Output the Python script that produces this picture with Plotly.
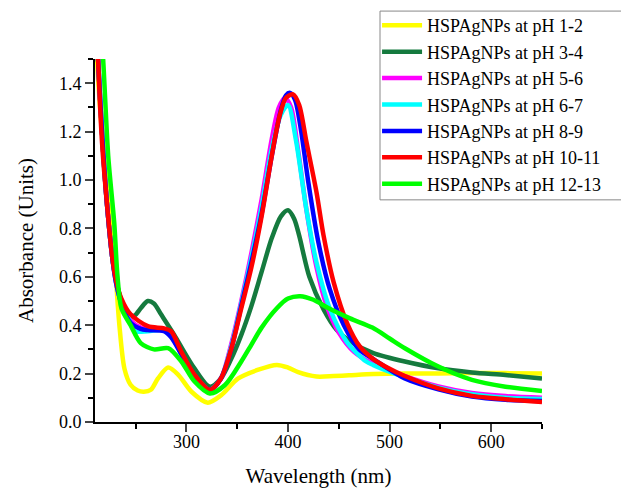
import plotly.graph_objects as go

# Wavelength (nm) / absorbance pairs
wl_ph_1_2 = [210, 212, 216, 222, 229, 234, 239, 245, 252, 258, 265, 272, 282, 292, 305, 321, 334, 351,
             370, 389, 400, 410, 428, 445, 460, 484, 515, 548, 581, 614, 650]
abs_ph_1_2 = [1.75, 1.5, 1.24, 0.96, 0.68, 0.40, 0.22, 0.154, 0.13, 0.125, 0.133, 0.18, 0.225, 0.195, 0.125,
              0.08, 0.11, 0.18, 0.215, 0.236, 0.225, 0.206, 0.188, 0.19, 0.193, 0.198, 0.2, 0.2, 0.202, 0.202, 0.2]

wl_ph_3_4 = [211, 213, 218, 222, 227, 231, 238, 245, 249, 255, 262, 268, 275, 288, 305, 323, 334, 344,
             354, 364, 374, 384, 393, 400, 406, 411, 421, 435, 448, 464, 484, 515, 548, 581, 614, 650]
abs_ph_3_4 = [1.75, 1.5, 1.12, 0.89, 0.68, 0.58, 0.48, 0.44, 0.44, 0.47, 0.50, 0.49, 0.445, 0.36, 0.24,
              0.146, 0.18, 0.26, 0.36, 0.48, 0.62, 0.76, 0.85, 0.875, 0.84, 0.77, 0.60, 0.465, 0.38,
              0.326, 0.285, 0.25, 0.222, 0.205, 0.194, 0.18]

wl_ph_5_6 = [211, 213, 218, 222, 227, 231, 236, 245, 255, 263, 278, 285, 295, 308, 323, 334, 344, 354,
             364, 374, 384, 391, 397, 403, 410, 418, 428, 438, 450, 465, 484, 515, 548, 581, 614, 650]
abs_ph_5_6 = [1.75, 1.5, 1.12, 0.89, 0.68, 0.57, 0.49, 0.42, 0.39, 0.385, 0.38, 0.36, 0.28, 0.19, 0.133,
              0.18, 0.32, 0.5, 0.7, 0.92, 1.17, 1.3, 1.34, 1.3, 1.12, 0.88, 0.64, 0.48, 0.37, 0.29,
              0.24, 0.19, 0.147, 0.12, 0.107, 0.1]

wl_ph_6_7 = [211, 213, 218, 222, 227, 231, 236, 245, 249, 262, 278, 285, 295, 308, 323, 334, 344, 354,
             364, 374, 384, 393, 400, 408, 418, 428, 441, 458, 477, 484, 515, 548, 581, 614, 650]
abs_ph_6_7 = [1.75, 1.5, 1.12, 0.89, 0.68, 0.57, 0.49, 0.41, 0.375, 0.375, 0.38, 0.36, 0.28, 0.19, 0.133,
              0.18, 0.31, 0.49, 0.68, 0.89, 1.13, 1.27, 1.31, 1.16, 0.88, 0.66, 0.47, 0.33, 0.25, 0.235,
              0.185, 0.142, 0.115, 0.1, 0.095]

wl_ph_8_9 = [211, 213, 218, 222, 227, 231, 236, 245, 255, 262, 278, 285, 295, 308, 323, 334, 344, 354,
             364, 374, 384, 393, 398, 402, 407, 413, 420, 430, 441, 455, 470, 484, 515, 548, 581, 614, 650]
abs_ph_8_9 = [1.75, 1.5, 1.12, 0.89, 0.68, 0.57, 0.49, 0.41, 0.385, 0.38, 0.375, 0.35, 0.28, 0.19, 0.133,
              0.18, 0.3, 0.48, 0.66, 0.86, 1.1, 1.29, 1.35, 1.36, 1.33, 1.2, 0.99, 0.74, 0.55, 0.4, 0.3,
              0.26, 0.18, 0.135, 0.105, 0.092, 0.087]

wl_ph_10_11 = [211, 213, 217, 222, 227, 231, 236, 245, 262, 278, 285, 295, 308, 323, 334, 344, 354, 364,
               374, 384, 392, 398, 405, 411, 418, 428, 435, 445, 458, 471, 484, 499, 515, 548, 581, 614, 650]
abs_ph_10_11 = [1.75, 1.5, 1.15, 0.89, 0.68, 0.58, 0.51, 0.445, 0.396, 0.387, 0.375, 0.29, 0.195, 0.133,
                0.18, 0.3, 0.47, 0.64, 0.85, 1.1, 1.27, 1.34, 1.354, 1.31, 1.16, 0.95, 0.77, 0.576, 0.41,
                0.31, 0.26, 0.222, 0.19, 0.139, 0.108, 0.094, 0.083]

wl_ph_12_13 = [214, 218, 223, 229, 232, 236, 245, 255, 268, 282, 295, 308, 323, 338, 354, 364, 374, 389,
               400, 412, 425, 440, 461, 483, 500, 515, 548, 581, 614, 650]
abs_ph_12_13 = [1.75, 1.5, 1.1, 0.82, 0.61, 0.47, 0.40, 0.326, 0.30, 0.305, 0.25, 0.167, 0.118, 0.153,
                0.25, 0.32, 0.39, 0.47, 0.51, 0.52, 0.505, 0.47, 0.428, 0.39, 0.345, 0.305, 0.229,
                0.174, 0.146, 0.128]

series = [
    ("HSPAgNPs at pH 1-2", wl_ph_1_2, abs_ph_1_2, "#ffff00"),
    ("HSPAgNPs at pH 3-4", wl_ph_3_4, abs_ph_3_4, "#157a3e"),
    ("HSPAgNPs at pH 5-6", wl_ph_5_6, abs_ph_5_6, "#ff00ff"),
    ("HSPAgNPs at pH 6-7", wl_ph_6_7, abs_ph_6_7, "#00ffff"),
    ("HSPAgNPs at pH 8-9", wl_ph_8_9, abs_ph_8_9, "#0000ff"),
    ("HSPAgNPs at pH 10-11", wl_ph_10_11, abs_ph_10_11, "#ff0000"),
    ("HSPAgNPs at pH 12-13", wl_ph_12_13, abs_ph_12_13, "#00ff00"),
]

serif = "Liberation Serif, Times New Roman, serif"

fig = go.Figure()
for name, x, y, color in series:
    fig.add_trace(go.Scatter(x=x, y=y, mode="lines", name=name,
                             line={"color": color, "width": 4.5, "shape": "spline", "smoothing": 0.8}))

# the page body adds ~7px offset, so margins are shifted to compensate
fig.update_layout(
    width=629, height=488,
    margin={"l": 87, "r": 95, "t": 51, "b": 74, "autoexpand": False},
    paper_bgcolor="white", plot_bgcolor="white",
    font={"family": serif, "color": "black", "size": 18},
    legend={"x": 0.631, "y": 1.143, "xanchor": "left", "yanchor": "top",
            "borderwidth": 0, "bgcolor": "rgba(0,0,0,0)",
            "font": {"size": 18}, "itemwidth": 40},
)
# legend frame, drawn wider than the text like in the original
fig.add_shape(type="rect", xref="paper", yref="paper", x0=0.6376, x1=1.1935, y0=0.612, y1=1.132,
              line={"color": "#888888", "width": 1}, fillcolor="rgba(0,0,0,0)", layer="below")
fig.update_xaxes(
    range=[210, 650], tick0=0, dtick=100, ticks="outside", ticklen=8, tickwidth=2,
    showline=True, linewidth=2, linecolor="black", showgrid=False, zeroline=False,
    ticklabelstandoff=-6,
    minor={"dtick": 50, "ticks": "outside", "ticklen": 5, "tickwidth": 2, "tickcolor": "black"},
    title={"text": "Wavelength (nm)", "font": {"size": 21}, "standoff": 18},
)
fig.update_yaxes(
    range=[0, 1.5], tick0=0, dtick=0.2, tickformat=".1f", ticks="outside", ticklen=8, tickwidth=2,
    showline=True, linewidth=2, linecolor="black", showgrid=False, zeroline=False,
    minor={"dtick": 0.1, "ticks": "outside", "ticklen": 5, "tickwidth": 2, "tickcolor": "black"},
    title={"text": "Absorbance (Units)", "font": {"size": 21}, "standoff": 20},
)

fig.write_html("out.html")
